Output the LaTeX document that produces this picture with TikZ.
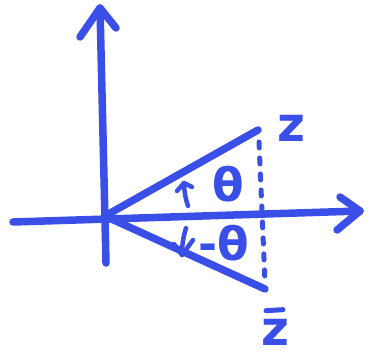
\documentclass[tikz,border=0pt]{standalone}
\usepackage{fontspec}
\setmainfont{DejaVu Sans}
\usetikzlibrary{arrows.meta}
\definecolor{ink}{RGB}{58,78,232}
\begin{document}
\begin{tikzpicture}[x=1pt,y=-1pt,
  pen/.style={draw=ink,line width=7.5pt,line cap=round,line join=round},
  thinpen/.style={draw=ink,line width=4.5pt,line cap=round,line join=round},
  dotpen/.style={draw=ink,line width=5pt,line cap=round,dash pattern=on 6pt off 10pt},
  lbl/.style={text=ink,font=\fontsize{48}{48}\selectfont\bfseries,inner sep=0pt},
  tlbl/.style={text=ink,font=\fontsize{46}{46}\selectfont\bfseries,inner sep=0pt}]
\useasboundingbox (0,0) rectangle (379,358);
% points
\coordinate (O) at (105,216);
\coordinate (ytip) at (100,8);
\coordinate (ybot) at (106,263);
\coordinate (xtip) at (360,211);
\coordinate (xleft) at (13,222);
\coordinate (z) at (258,130);
\coordinate (zb) at (265,289);
\coordinate (d1) at (259,142);
\coordinate (d2) at (265,282);
% axes
\draw[pen] (ybot) -- (ytip);
\draw[pen] (80,37) -- (ytip) -- (116,28);
\draw[pen] (xleft) -- (xtip);
\draw[pen] (340,197) -- (xtip) -- (337,230);
% rays
\draw[pen] (O) -- (z);
\draw[pen] (O) -- (zb);
% dashed projection
\draw[dotpen] (d1) -- (d2);
% angle arrows
\coordinate (a1) at (188,206);
\coordinate (a2) at (184,183);
\draw[thinpen] (a1) to[bend left=8] (a2);
\draw[thinpen] (177,191) -- (a2) -- (192,187);
\coordinate (b1) at (186,228);
\coordinate (b2) at (182,255);
\draw[thinpen] (b1) to[bend right=8] (b2);
\draw[thinpen] (174,244) -- (b2) -- (193,240);
% labels
\node[lbl] (lz) at (291,128) {z};
\node[lbl] (lzb) at (275,332) {z};
\draw[thinpen,line width=5pt] ([xshift=-9pt,yshift=8pt]lzb.north) -- ([xshift=8pt,yshift=9pt]lzb.north);
\node[tlbl] (lt) at (228,184) {θ};
\node[tlbl] (lmt) at (224,243) {-θ};
\end{tikzpicture}
\end{document}
